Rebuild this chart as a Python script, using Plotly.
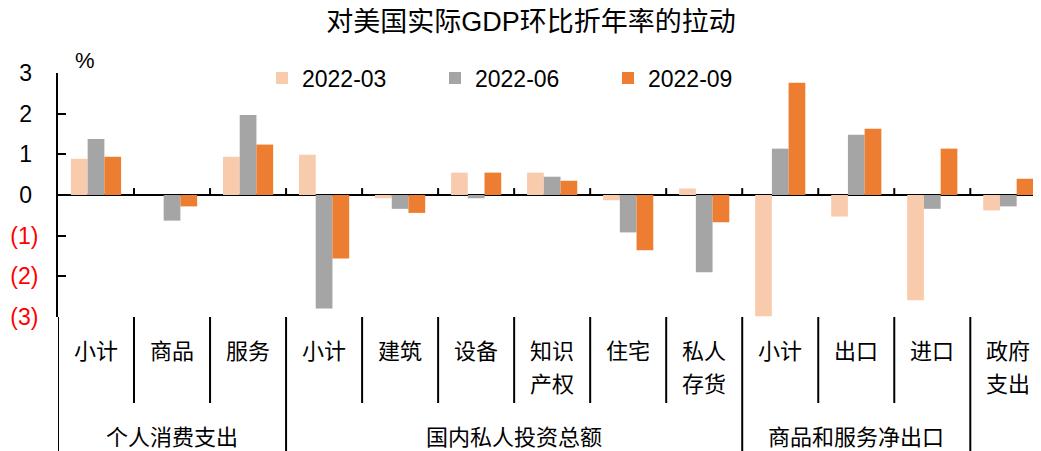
import plotly.graph_objects as go

# ---- data ----
title_text = "对美国实际GDP环比折年率的拉动"
series_names = ["2022-03", "2022-06", "2022-09"]
sub_labels = ["小计", "商品", "服务", "小计", "建筑", "设备", "知识<br>产权",
              "住宅", "私人<br>存货", "小计", "出口", "进口", "政府<br>支出"]
group_labels = ["个人消费支出", "国内私人投资总额", "商品和服务净出口", ""]
group_sizes = [3, 6, 3, 1]
v_2022_03 = [0.89, 0.0, 0.94, 0.99, -0.08, 0.55, 0.55, -0.13, 0.16, -2.98, -0.53, -2.59, -0.38]
v_2022_06 = [1.38, -0.63, 1.97, -2.79, -0.34, -0.08, 0.45, -0.92, -1.90, 1.14, 1.48, -0.34, -0.28]
v_2022_09 = [0.94, -0.28, 1.24, -1.56, -0.44, 0.55, 0.35, -1.36, -0.67, 2.76, 1.63, 1.14, 0.40]
y_tickvals = [3, 2, 1, 0, -1, -2, -3]
y_ticktext = ["3", "2", "1", "0", "(1)", "(2)", "(3)"]

colors = ["#F8CBAD", "#A5A5A5", "#ED7D31"]
FONT = "Liberation Sans, Arial, Noto Sans CJK SC"

# the page body has an 8px default margin; compensate so window positions match
OFF = 8
W, H = 1041, 451
ML = 58 - OFF
MT = 73 - OFF
PLOT_BOTTOM = 317 - OFF
MB = H - PLOT_BOTTOM
MR = OFF
plot_h = H - MT - MB
plot_w = W - ML - MR

def py(wpix):  # window pixel y -> paper y
    return (PLOT_BOTTOM - (wpix - OFF)) / plot_h

def px(wpix):  # window pixel x -> paper x
    return (wpix - OFF - ML) / plot_w

x_idx = list(range(len(sub_labels)))

fig = go.Figure()
for name, vals, c in zip(series_names, [v_2022_03, v_2022_06, v_2022_09], colors):
    fig.add_trace(go.Bar(x=x_idx, y=vals, name=name, marker=dict(color=c, line=dict(width=0))))

# tick labels: negatives red, positives padded
tt = []
for v, t in zip(y_tickvals, y_ticktext):
    if v < 0:
        tt.append('<span style="color:#FF0000">%s</span>' % t)
    else:
        tt.append(t + "\u00a0")

shapes = []
annotations = []

# boundaries
group_bounds = []
pos = 0
for n in group_sizes:
    group_bounds.append(pos - 0.5)
    pos += n
for b in [i + 0.5 for i in range(len(sub_labels) - 1)] + [-0.5]:
    is_group = any(abs(b - gb) < 1e-9 for gb in group_bounds)
    if b > -0.5:
        shapes.append(dict(type="line", xref="x", yref="y", x0=b, x1=b, y0=0, y1=0.17,
                           line=dict(color="black", width=2)))
    shapes.append(dict(type="line", xref="x", yref="paper", x0=b, x1=b, y0=0,
                       y1=py(470) if is_group else py(403),
                       line=dict(color="black", width=2)))

# sub labels
for i, lab in enumerate(sub_labels):
    for k, line in enumerate(lab.split("<br>")):
        annotations.append(dict(x=i, y=py(351 + 33 * k), xref="x", yref="paper", text=line,
                                showarrow=False, xanchor="center", yanchor="middle",
                                font=dict(size=22, color="black", family=FONT)))
# group labels
pos = 0
for g, n in zip(group_labels, group_sizes):
    if g:
        annotations.append(dict(x=pos + (n - 1) / 2, y=py(437), xref="x", yref="paper", text=g,
                                showarrow=False, xanchor="center", yanchor="middle",
                                font=dict(size=22, color="black", family=FONT)))
    pos += n

# % unit
annotations.append(dict(x=px(85), y=py(60), xref="paper", yref="paper", text="%",
                        showarrow=False, xanchor="center", yanchor="middle",
                        font=dict(size=22, color="black", family=FONT)))

fig.update_layout(
    template="none",
    width=W, height=H,
    margin=dict(l=ML, r=MR, t=MT, b=MB, pad=0, autoexpand=False),
    paper_bgcolor="white", plot_bgcolor="white",
    barmode="group", bargap=0.34, bargroupgap=0,
    font=dict(family=FONT, size=23, color="black"),
    title=dict(text=title_text, x=(531 - OFF) / W, xanchor="center", xref="container",
               y=1 - (22 - OFF) / H, yanchor="middle", yref="container",
               font=dict(size=27, color="black", family=FONT)),
    showlegend=True,
    legend=dict(orientation="h", x=px(262), xanchor="left",
                y=py(78), yanchor="middle", entrywidth=128, entrywidthmode="pixels",
                font=dict(size=23, color="black", family=FONT), bgcolor="rgba(0,0,0,0)",
                borderwidth=0, traceorder="normal"),
    xaxis=dict(range=[-0.5, 12.43], showticklabels=False, showgrid=False, zeroline=False,
               showline=False, ticks="", fixedrange=True, automargin=False),
    yaxis=dict(range=[-3, 3], tickvals=y_tickvals, ticktext=tt, showgrid=False,
               zeroline=True, zerolinecolor="black", zerolinewidth=2,
               showline=True, linecolor="black", linewidth=2,
               ticks="inside", ticklen=8, tickwidth=2, tickcolor="black",
               ticklabelstandoff=13, automargin=False,
               tickfont=dict(size=23, color="black", family=FONT)),
    shapes=shapes, annotations=annotations,
)

fig.write_html("out.html")
